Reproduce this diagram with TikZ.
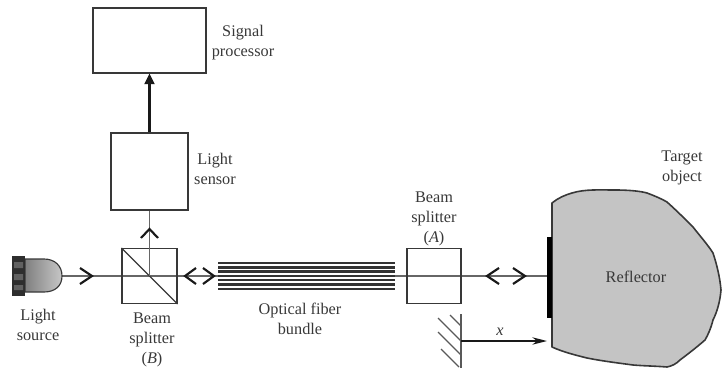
\documentclass[tikz,border=0pt]{standalone}
\usepackage{fontspec}
\setmainfont{Liberation Serif}
\usetikzlibrary{arrows.meta}
\definecolor{ink}{gray}{0.22}
\definecolor{beamc}{gray}{0.4}
\definecolor{objc}{gray}{0.77}
\tikzset{
  box/.style={draw=ink,line width=0.8pt,fill=white,inner sep=0pt},
  lbl/.style={font=\fontsize{12.2pt}{15pt}\selectfont,text=ink,align=center,inner sep=0pt},
  beam/.style={draw=beamc,line width=0.8pt},
  chev/.style={draw=black!90,line width=1.6pt,line join=miter},
  fib/.style={draw=black!80,line width=1.8pt},
  hatchline/.style={draw=black!65,line width=0.9pt},
}
\begin{document}
\begin{tikzpicture}[x=0.75pt,y=-0.75pt]
\useasboundingbox (0,0) rectangle (726,368);
% target
\draw[draw=ink,line width=1.2pt,fill=objc,line join=round]
 (552,203) .. controls (558,198) and (565,195) .. (572,193)
 .. controls (585,189) and (600,190) .. (615,190)
 .. controls (628,190) and (640,191) .. (647,193)
 .. controls (655,196) and (662,199) .. (667,202)
 .. controls (677,211) and (685,219) .. (693,227)
 .. controls (700,236) and (708,245) .. (713,253)
 .. controls (717,265) and (720,278) .. (721,290)
 .. controls (720,302) and (717,312) .. (713,320)
 .. controls (711,328) and (708,335) .. (705,340)
 .. controls (697,347) and (688,354) .. (680,360)
 .. controls (676,364) and (672,366) .. (667,367)
 .. controls (655,366) and (645,366) .. (633,365)
 .. controls (618,363) and (602,361) .. (587,358)
 .. controls (575,355) and (563,352) .. (552,347) -- cycle;
% beam
\coordinate (srcEnd) at (62,276);
\coordinate (refl) at (547,276);
\path[beam] (srcEnd) -- (refl);
% light source
\shade[draw=ink,line width=0.85pt,left color=black!50,right color=black!22]
 (25,259) -- (44,259) .. controls (55,259) and (62,266) .. (62,276)
 .. controls (62,286) and (55,292) .. (44,292) -- (25,292) -- cycle;
\fill[black!82] (12,256) rectangle (25,296);
\fill[black!62] (14,262) rectangle (23,268) (14,274) rectangle (23,280) (14,285) rectangle (23,290);
% beam splitter B
\node[box,fill=none,minimum width=41.25pt,minimum height=41.25pt] (B) at (149.5,276) {};
\draw[draw=ink,line width=0.9pt] (B.north west) -- (B.south east);
% beam splitter A
\node[box,fill=none,minimum width=40.5pt,minimum height=41.25pt] (A) at (434,276) {};
% fibres
\foreach \yy in {263,267.3,271.6,275.9,280.2,284.5,288.8}{\draw[fib] (218,\yy) -- (395,\yy);}
% boxes
\node[box,minimum width=84.75pt,minimum height=48.75pt] (proc) at (149.5,40.5) {};
\node[box,minimum width=57.75pt,minimum height=57.75pt] (sensor) at (149.5,171.5) {};
\coordinate (bc) at (B.center);
\path[beam] (bc) -- (sensor.south);
\draw[draw=black!90,line width=1.7pt,-{Triangle[length=8pt,width=7.5pt]}] (sensor.north) -- (proc.south);
% chevrons
\draw[chev] (80,268) -- (92,276) -- (80,284);
\draw[chev] (141,238) -- (149.5,229) -- (158,238);
\draw[chev] (196,268) -- (185,276) -- (196,284);
\draw[chev] (203,268) -- (214,276) -- (203,284);
\draw[chev] (499,268) -- (487,276) -- (499,284);
\draw[chev] (513,268) -- (525,276) -- (513,284);
% reflector bar
\fill[black] (547,237) rectangle (552,318);
% wall
\coordinate (wallT) at (461,314);
\coordinate (wallB) at (461,368);
\draw[hatchline] (wallT) -- (wallB);
\draw[hatchline] (450,315) -- (461,326);
\draw[hatchline] (438,318) -- (461,341);
\draw[hatchline] (438,332) -- (461,355);
\draw[hatchline] (441,349) -- (459,367);
\coordinate (wallM) at (461,341);
\coordinate (objEdge) at (547,341);
\draw[draw=black!90,line width=1.2pt,-{Stealth[length=11pt,width=5.5pt]}] (wallM) -- (objEdge);
% labels
\node[lbl] (tsig) at (243,43) {Signal\\processor};
\node[lbl] (tsen) at (215,169) {Light\\sensor};
\node[lbl] (tsrc) at (38,325) {Light\\source};
\node[lbl] (tb) at (152,340) {Beam\\splitter\\(\textit{B})};
\node[lbl] (tf) at (300,319) {Optical fiber\\bundle};
\node[lbl] (ta) at (434,219) {Beam\\splitter\\(\textit{A})};
\node[lbl] (tt) at (682,168) {Target\\object};
\node[lbl] (tr) at (636,277) {Reflector};
\node[lbl] (tx) at (500,332) {\textit{x}};
\end{tikzpicture}
\end{document}
